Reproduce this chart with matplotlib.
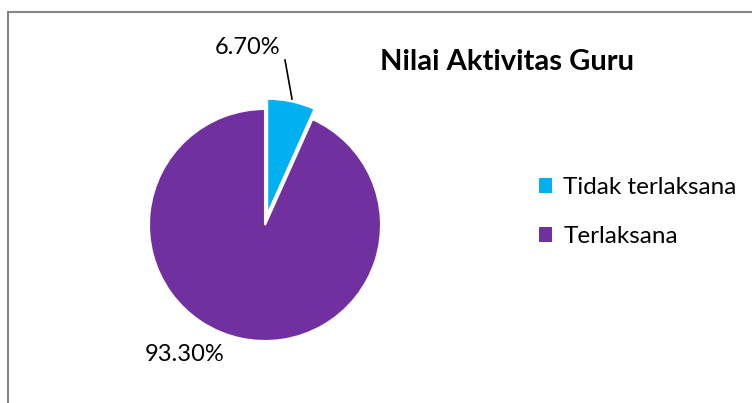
import matplotlib
matplotlib.use("Agg")
import matplotlib.pyplot as plt
from matplotlib.patches import Patch
from matplotlib.lines import Line2D

categories = ["Tidak terlaksana", "Terlaksana"]
values = [6.70, 93.30]
labels = ["6.70%", "93.30%"]
colors = ["#00B0F0", "#7030A0"]
title = "Nilai Aktivitas Guru"

W, H = 752, 403
fig = plt.figure(figsize=(W / 100, H / 100), dpi=100)
FONT = ["Lato", "DejaVu Sans"]

# border (top and left visible)
fig.add_artist(Line2D([8 / W, 8 / W], [0, 1 - 12 / H], transform=fig.transFigure,
                      color="#878787", lw=1.5))
fig.add_artist(Line2D([8 / W, 1], [1 - 12 / H, 1 - 12 / H], transform=fig.transFigure,
                      color="#878787", lw=1.5))

R = 116
cx, cyt = 265, 225          # pie centre in pixels from top-left
side = 3 * R
ax = fig.add_axes([(cx - side / 2) / W, (H - cyt - side / 2) / H, side / W, side / H])
wedges, _ = ax.pie(values, colors=colors, startangle=90, counterclock=False,
                   explode=[0.09, 0], radius=1,
                   wedgeprops=dict(edgecolor="white", linewidth=1.5))
ax.set_xlim(-1.5, 1.5)
ax.set_ylim(-1.5, 1.5)
ax.set_aspect("equal")
ax.axis("off")

def px(x, y):
    return (x - cx) / R, (cyt - y) / R

# data labels
ax.text(*px(248, 47), labels[0], ha="center", va="center",
        fontsize=17, family=FONT, color="black")
(x0, y0), (x1, y1) = px(285, 60), px(292, 99)
ax.plot([x0, x1], [y0, y1], color="black", lw=1.2, clip_on=False)
ax.text(*px(185, 355), labels[1], ha="center", va="center",
        fontsize=17, family=FONT, color="black")

fig.text(507 / W, 1 - 62 / H, title, ha="center", va="center",
         fontsize=21, fontweight="bold", family=FONT)

handles = [Patch(facecolor=c, edgecolor="none") for c in colors]
fig.legend(handles, categories, loc="center left",
           bbox_to_anchor=(539 / W, 1 - 212 / H), frameon=False,
           prop=dict(family=FONT, size=17.5), handlelength=0.55, handleheight=0.55,
           handletextpad=0.45, labelspacing=1.15, borderaxespad=0, borderpad=0)

fig.savefig("out.png", dpi=100)
